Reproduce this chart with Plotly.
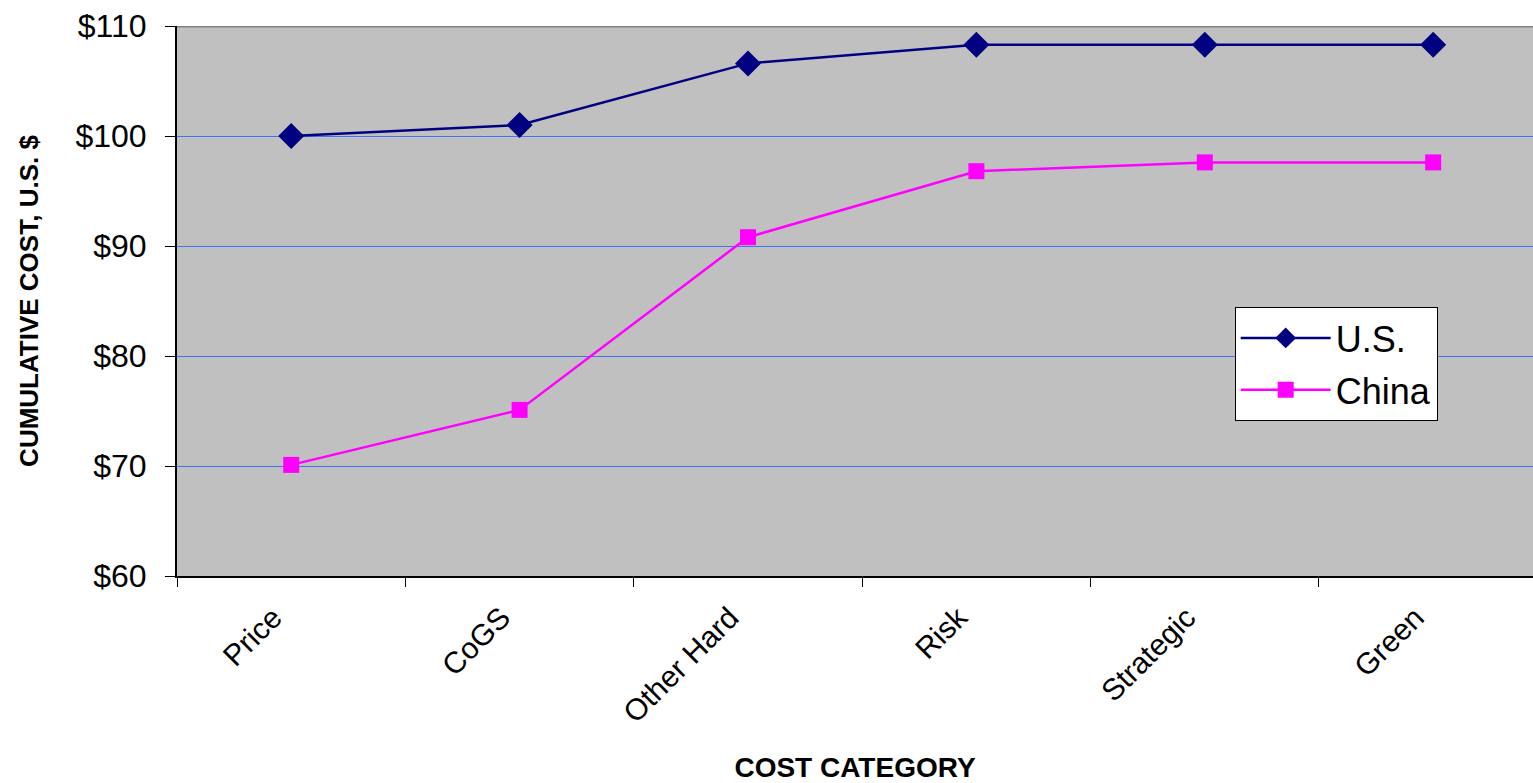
import plotly.graph_objects as go

categories = ["Price", "CoGS", "Other Hard", "Risk", "Strategic", "Green"]
us_values = [100.0, 101.0, 106.6, 108.3, 108.3, 108.3]
china_values = [70.1, 75.1, 90.8, 96.8, 97.6, 97.6]
y_tickvals = [60, 70, 80, 90, 100, 110]
y_ticktext = ["$60", "$70", "$80", "$90", "$100", "$110"]

FONT = "Liberation Sans, Arial, sans-serif"

fig = go.Figure()
fig.add_trace(go.Scatter(
    x=categories, y=us_values, name="U.S.", mode="lines+markers",
    legendgroup="us",
    line=dict(color="#000080", width=2.5),
    marker=dict(symbol="diamond", size=20, color="#000080"),
))
fig.add_trace(go.Scatter(
    x=categories, y=china_values, name="China", mode="lines+markers",
    legendgroup="china",
    line=dict(color="#FF00FF", width=2.5),
    marker=dict(symbol="square", size=16, color="#FF00FF"),
))

fig.add_shape(type="line", xref="paper", yref="y", x0=0, x1=1, y0=110, y1=110,
              line=dict(color="#808080", width=3))

fig.update_layout(
    width=1533, height=783,
    margin=dict(l=177, r=0, t=26, b=207),
    paper_bgcolor="white", plot_bgcolor="#C0C0C0",
    font=dict(family=FONT, color="black"),
    showlegend=True,
    legend=dict(x=0.78, y=0.489, xanchor="left", yanchor="top",
                bgcolor="white", bordercolor="black", borderwidth=1,
                font=dict(size=36, family=FONT), itemwidth=90,
                tracegroupgap=2),
    xaxis=dict(
        type="category", range=[-0.5, 5.437],
        tickson="boundaries", ticks="outside", ticklen=9, tickcolor="black",
        tickangle=-45, tickfont=dict(size=30, family=FONT),
        ticklabelshift=-18, ticklabelstandoff=10,
        showline=True, linecolor="black", linewidth=2,
        showgrid=False, zeroline=False,
        title=dict(text="<b>COST CATEGORY</b>", font=dict(size=28, family=FONT), standoff=30),
    ),
    yaxis=dict(
        range=[60, 110], tickvals=y_tickvals, ticktext=y_ticktext,
        ticks="outside", ticklen=10, tickcolor="black",
        tickfont=dict(size=32, family=FONT),
        showline=True, linecolor="black", linewidth=2,
        showgrid=True, gridcolor="#4472F0", gridwidth=1, zeroline=False,
        ticklabelstandoff=12,
        title=dict(text="<b>CUMULATIVE COST, U.S. $</b>", font=dict(size=26, family=FONT), standoff=29),
    ),
)

fig.write_html("out.html", config={"displayModeBar": False},
               post_script="document.body.style.margin='0px';")
